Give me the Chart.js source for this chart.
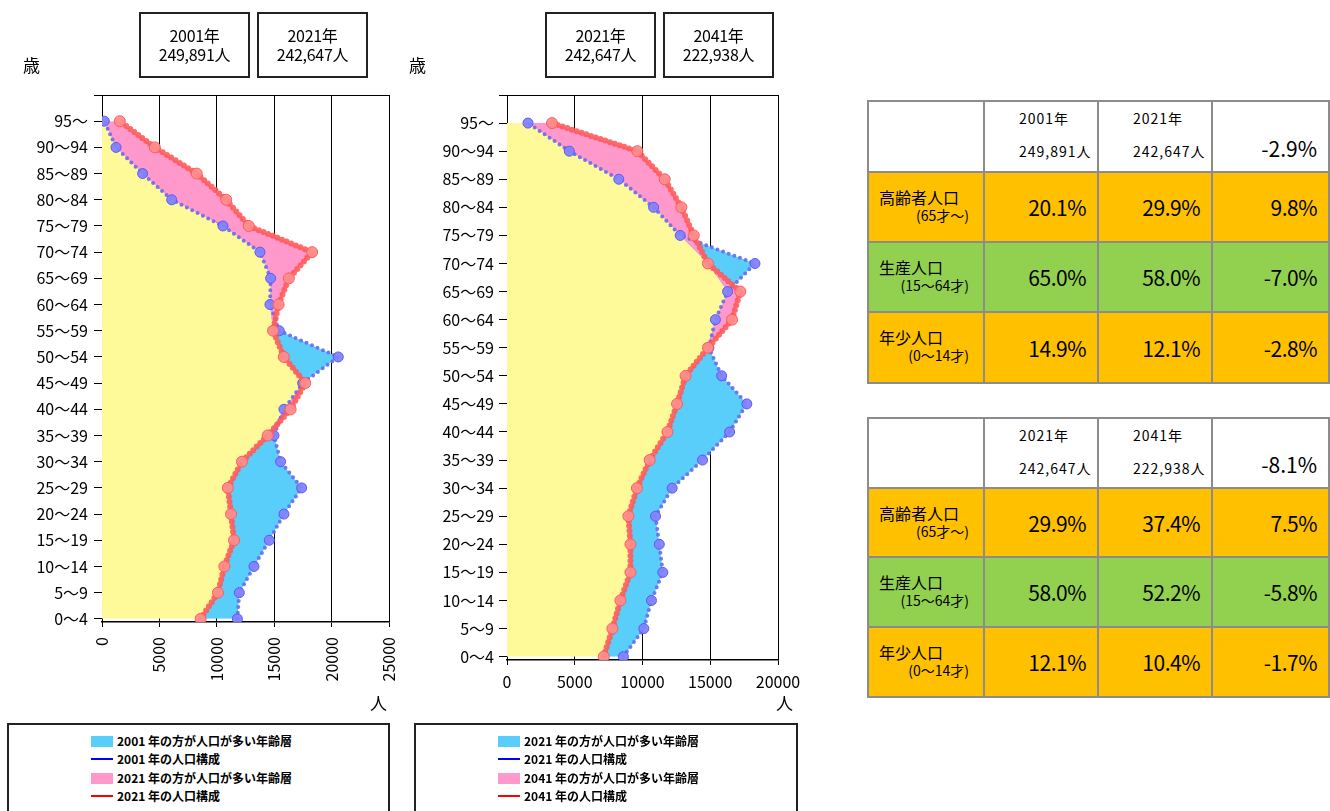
<!DOCTYPE html>
<html lang="ja">
<head>
<meta charset="utf-8">
<script src="https://cdn.jsdelivr.net/npm/chart.js@4.4.1/dist/chart.umd.min.js"></script>
<style>
  body { margin: 0; width: 1330px; height: 811px; position: relative; overflow: hidden; background: #fff;
         font-family: "Noto Sans CJK JP", "Noto Sans", sans-serif; color: #000; }
  canvas { position: absolute; top: 0; }
  .unit { position: absolute; font-size: 17px; line-height: 20px; }
  .yearbox { position: absolute; top: 12px; width: 107px; height: 50px; padding-top: 12px; border: 2px solid #222;
             text-align: center; font-size: 16px; line-height: 19px; letter-spacing: -0.3px; }
  .legend { position: absolute; top: 723px; height: 120px; border: 2px solid #222; padding-top: 7px; box-sizing: border-box; }
  .legend div { height: 18.3px; line-height: 18px; padding-left: 82px; font-size: 12px; font-weight: 700; white-space: nowrap; }
  .legend span.sw { display: inline-block; width: 22px; height: 11px; vertical-align: -1px; margin-right: 4px; }
  .legend span.ln { display: inline-block; width: 22px; height: 2px; vertical-align: 4px; margin-right: 4px; }
  table { position: absolute; left: 867px; width: 461px; border-collapse: collapse; table-layout: fixed; }
  td { border: 2px solid #8c8c8c; padding: 0; }
  td.head { vertical-align: top; padding-left: 34px; font-size: 14px; line-height: 33px; letter-spacing: 1px; background: #fff; }
  td.total { vertical-align: bottom; text-align: right; padding: 0 11px 11px 0; font-size: 21px; line-height: 24px; background: #fff; }
  td.lab { vertical-align: top; padding: 14px 14px 0 10px; }
  td.lab .l1 { font-size: 16px; line-height: 20px; }
  td.lab .l2 { font-size: 14px; line-height: 16px; text-align: right; }
  td.val { text-align: right; padding-right: 11px; font-size: 21px; letter-spacing: -0.5px; }
  .orange { background: #ffc000; }
  .green { background: #92d050; }
</style>
</head>
<body>
<canvas id="c1" width="400" height="720" style="left:0"></canvas>
<canvas id="c2" width="400" height="720" style="left:400px"></canvas>

<div class="unit" style="left:23px;top:55px">歳</div>
<div class="unit" style="left:409px;top:55px">歳</div>
<div class="unit" style="left:370px;top:693px">人</div>
<div class="unit" style="left:776px;top:693px">人</div>

<div id="boxes"></div>
<div id="legends"></div>
<div id="tables"></div>

<script>
// age groups, bottom (0~4) to top (95~)
const ageLabels = ["0～4", "5～9", "10～14", "15～19", "20～24", "25～29", "30～34", "35～39", "40～44", "45～49",
  "50～54", "55～59", "60～64", "65～69", "70～74", "75～79", "80～84", "85～89", "90～94", "95～"];
const pop2001 = [11790, 11960, 13240, 14570, 15850, 17390, 15560, 14980, 15850, 17480,
  20580, 15440, 14630, 14690, 13760, 10540, 6070, 3540, 1220, 200];
const pop2021 = [8590, 10100, 10660, 11500, 11240, 10960, 12190, 14430, 16430, 17700,
  15840, 14900, 15380, 16280, 18300, 12780, 10820, 8250, 4600, 1550];
const pop2041 = [7140, 7780, 8370, 9110, 9110, 8960, 9590, 10530, 11840, 12550,
  13180, 14830, 16610, 17220, 14830, 13780, 12870, 11640, 9620, 3320];

const years = ["2001", "2021", "2041"];
const totals = ["249,891", "242,647", "222,938"];

// summary tables
const groupNames = [["高齢者人口", "(65才～)"], ["生産人口", "(15～64才)"], ["年少人口", "(0～14才)"]];
const share2001 = ["20.1%", "65.0%", "14.9%"];
const share2021 = ["29.9%", "58.0%", "12.1%"];
const share2041 = ["37.4%", "52.2%", "10.4%"];
const diff1 = ["9.8%", "-7.0%", "-2.8%"];
const diff2 = ["7.5%", "-5.8%", "-1.7%"];
const totalChange = ["-2.9%", "-8.1%"];

const YELLOW = "rgb(255,250,153)";
const CYAN = "rgb(90,206,250)";
const PINK = "rgb(255,153,204)";
const tickFont = { family: "Noto Sans CJK JP", size: 16 };

function toPoints(arr) {
  return arr.map((v, i) => ({ x: v, y: i }));
}

function pyramid(id, older, newer, xMax, cfg) {
  const lower = older.map((v, i) => Math.min(v, newer[i]));
  new Chart(document.getElementById(id), {
    type: "line",
    data: {
      datasets: [
        { data: toPoints(lower), borderColor: "rgba(0,0,0,0)", borderWidth: 0, pointRadius: 0,
          fill: "origin", backgroundColor: YELLOW, order: 3 },
        { data: toPoints(older), borderColor: "rgba(105,105,240,0.9)", borderWidth: 4, borderDash: [0, 6],
          borderCapStyle: "round", fill: 0, backgroundColor: CYAN, order: 2,
          pointRadius: 5, pointBackgroundColor: "rgba(130,130,255,0.95)", pointBorderColor: "#5a5aee", pointBorderWidth: 1 },
        { data: toPoints(newer), borderColor: "rgba(255,90,90,0.9)", borderWidth: 6, borderDash: [0, 5],
          borderCapStyle: "round", fill: 0, backgroundColor: PINK, order: 1,
          pointRadius: 5.5, pointBackgroundColor: "rgba(255,140,140,0.95)", pointBorderColor: "#ff5a5a", pointBorderWidth: 1 }
      ]
    },
    options: {
      indexAxis: "y",
      responsive: false,
      animation: false,
      layout: { padding: { top: 95, right: cfg.right, left: 0, bottom: 0 } },
      plugins: {
        legend: { display: false },
        tooltip: { enabled: false },
        filler: { drawTime: "beforeDatasetsDraw" }
      },
      scales: {
        x: {
          type: "linear", min: 0, max: xMax,
          ticks: { stepSize: 5000, color: "#000", font: tickFont, padding: cfg.xPad,
                   minRotation: cfg.rot, maxRotation: cfg.rot, callback: v => String(v) },
          grid: { color: "#000", tickLength: 5 },
          border: { color: "#000", width: 1.5 },
          afterFit: s => { s.height = cfg.xHeight; s.paddingLeft = 0; s.paddingRight = 0; }
        },
        y: {
          type: "linear", min: -0.12, max: 20,
          ticks: { stepSize: 1, includeBounds: false, color: "#000", font: tickFont, padding: cfg.yPad,
                   callback: v => ageLabels[v] ?? "" },
          grid: { color: c => (c.tick && c.tick.value === 20 ? "#000" : "rgba(0,0,0,0)"), tickColor: "#000", tickLength: 8 },
          border: { color: "#000" },
          afterFit: s => { s.width = cfg.yWidth; s.paddingTop = 0; s.paddingBottom = 0; }
        }
      }
    }
  });
}

pyramid("c1", pop2001, pop2021, 25000, { right: 11, yWidth: 102, xHeight: 98, rot: 90, xPad: 10, yPad: 6 });
pyramid("c2", pop2021, pop2041, 20000, { right: 22, yWidth: 107, xHeight: 60, rot: 0, xPad: 7, yPad: 5 });

// year boxes above the charts
const boxLefts = [[139, 257], [545, 663]];
let html = "";
boxLefts.forEach((pair, k) => {
  pair.forEach((left, j) => {
    const n = k + j;
    html += `<div class="yearbox" style="left:${left}px">${years[n]}年<br>${totals[n]}人</div>`;
  });
});
document.getElementById("boxes").innerHTML = html;

// legends
const legendLefts = [7, 414];
html = "";
legendLefts.forEach((left, k) => {
  const a = years[k], b = years[k + 1];
  html += `<div class="legend" style="left:${left}px;width:${k ? 384 : 383}px">
    <div><span class="sw" style="background:${CYAN}"></span>${a} 年の方が人口が多い年齢層</div>
    <div><span class="ln" style="background:#0000ff"></span>${a} 年の人口構成</div>
    <div><span class="sw" style="background:${PINK}"></span>${b} 年の方が人口が多い年齢層</div>
    <div><span class="ln" style="background:#ff0000"></span>${b} 年の人口構成</div>
  </div>`;
});
document.getElementById("legends").innerHTML = html;

// summary tables
function table(top, heights, a, b, sa, sb, diff, change) {
  const colors = ["orange", "green", "orange"];
  let t = `<table style="top:${top}px"><colgroup><col style="width:116px"><col style="width:114px"><col style="width:114px"><col style="width:117px"></colgroup>`;
  t += `<tr style="height:${heights[0]}px"><td style="background:#fff"></td>
    <td class="head">${years[a]}年<br>${totals[a]}人</td>
    <td class="head">${years[b]}年<br>${totals[b]}人</td>
    <td class="total">${change}</td></tr>`;
  groupNames.forEach((g, i) => {
    t += `<tr style="height:${heights[i + 1]}px" class="${colors[i]}">
      <td class="lab"><div class="l1">${g[0]}</div><div class="l2">${g[1]}</div></td>
      <td class="val">${sa[i]}</td><td class="val">${sb[i]}</td><td class="val">${diff[i]}</td></tr>`;
  });
  return t + "</table>";
}
document.getElementById("tables").innerHTML =
  table(100, [71, 70, 70, 71], 0, 1, share2001, share2021, diff1, totalChange[0]) +
  table(417, [70, 69, 70, 70], 1, 2, share2021, share2041, diff2, totalChange[1]);
</script>
</body>
</html>
